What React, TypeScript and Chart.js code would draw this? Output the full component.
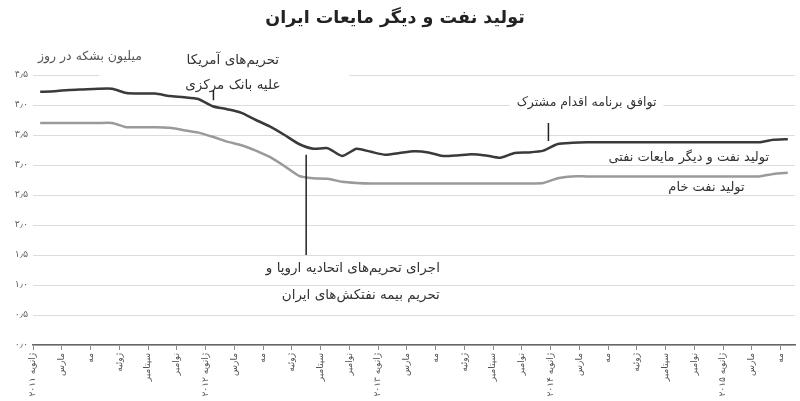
import React, { useEffect, useRef } from "react";
import { Chart, registerables } from "chart.js";

Chart.register(...registerables);

const toFa = (s: string) =>
  s.replace(/[0-9]/g, (d) => "۰۱۲۳۴۵۶۷۸۹"[Number(d)]).replace(".", "٫");

const monthNames = [
  "ژانویه", "فوریه", "مارس", "آوریل", "مه", "ژوئن",
  "ژوئیه", "اوت", "سپتامبر", "اکتبر", "نوامبر", "دسامبر",
];
const years = [2011, 2012, 2013, 2014, 2015];

// categories: monthly, Jan 2011 .. May 2015
const months: string[] = [];
years.forEach((y) =>
  monthNames.forEach((m, k) => months.push(k === 0 ? `${m} ${toFa(String(y))}` : m))
);
months.length = 53;

// total oil & other liquids (million barrels per day)
const totalLiquids = [
  4.22, 4.23, 4.25, 4.26, 4.27, 4.27, 4.2, 4.19, 4.19, 4.15,
  4.13, 4.1, 3.98, 3.93, 3.87, 3.75, 3.64, 3.5, 3.35, 3.27,
  3.28, 3.15, 3.27, 3.22, 3.17, 3.2, 3.23, 3.21, 3.15, 3.16,
  3.18, 3.16, 3.12, 3.2, 3.21, 3.24, 3.35, 3.37, 3.38, 3.38,
  3.38, 3.38, 3.38, 3.38, 3.38, 3.38, 3.38, 3.38, 3.38, 3.38,
  3.38, 3.42, 3.43,
];

// crude oil production
const crudeOil = [
  3.7, 3.7, 3.7, 3.7, 3.7, 3.7, 3.63, 3.63, 3.63, 3.62,
  3.58, 3.54, 3.47, 3.39, 3.33, 3.24, 3.13, 2.98, 2.82, 2.78,
  2.77, 2.72, 2.7, 2.69, 2.69, 2.69, 2.69, 2.69, 2.69, 2.69,
  2.69, 2.69, 2.69, 2.69, 2.69, 2.7, 2.78, 2.81, 2.81, 2.81,
  2.81, 2.81, 2.81, 2.81, 2.81, 2.81, 2.81, 2.81, 2.81, 2.81,
  2.81, 2.85, 2.87,
];

const yTicks = [0, 0.5, 1, 1.5, 2, 2.5, 3, 3.5, 4, 4.5];

const title = "تولید نفت و دیگر مایعات ایران";
const unitLabel = "میلیون بشکه در روز";
const usSanction = ["تحریم‌های آمریکا", "علیه بانک مرکزی"];
const euSanction = ["اجرای تحریم‌های اتحادیه اروپا و", "تحریم بیمه نفتکش‌های ایران"];
const jpoa = "توافق برنامه اقدام مشترک";
const totalLabel = "تولید نفت و دیگر مایعات نفتی";
const crudeLabel = "تولید نفت خام";

const FA = '"DejaVu Sans", sans-serif';

const annotationPlugin = {
  id: "annotations",
  beforeDatasetsDraw(chart: any) {
    const { ctx, scales } = chart;
    const xs = scales.x;
    const ys = scales.y;
    ctx.save();
    ctx.fillStyle = "#fff";
    // white boxes behind texts
    const x1 = xs.getPixelForValue(4.6);
    const x2 = xs.getPixelForValue(22);
    ctx.fillRect(x1, ys.getPixelForValue(4.55) - 8, x2 - x1, 12);
    ctx.font = `12.5px ${FA}`;
    const w = ctx.measureText(jpoa).width + 14;
    const cx = xs.getPixelForValue(38.5);
    const cy = ys.getPixelForValue(4.03);
    ctx.fillRect(cx - w / 2, cy - 8, w, 16);
    ctx.restore();
  },
  afterDraw(chart: any) {
    const { ctx, scales } = chart;
    const xs = scales.x;
    const ys = scales.y;
    const X = (v: number) => xs.getPixelForValue(v);
    const Y = (v: number) => ys.getPixelForValue(v);
    ctx.save();
    ctx.direction = "rtl";
    ctx.textBaseline = "middle";

    // title
    ctx.fillStyle = "#222";
    ctx.font = `bold 17.5px ${FA}`;
    ctx.textAlign = "center";
    ctx.fillText(title, 395, 18);

    // unit
    ctx.fillStyle = "#555";
    ctx.font = `12.5px ${FA}`;
    ctx.fillText(unitLabel, X(3.96), Y(4.8));

    // US sanctions
    ctx.fillStyle = "#333";
    ctx.font = `13.5px ${FA}`;
    ctx.fillText(usSanction[0], X(13.9), Y(4.75));
    ctx.fillText(usSanction[1], X(13.9), Y(4.33));

    // JPOA
    ctx.font = `12.5px ${FA}`;
    ctx.fillText(jpoa, X(38.5), Y(4.03));

    // EU sanctions
    ctx.textAlign = "right";
    ctx.font = `13.5px ${FA}`;
    ctx.fillText(euSanction[0], X(28.3), Y(1.28));
    ctx.fillText(euSanction[1], X(28.3), Y(0.83));

    // series labels
    ctx.font = `13px ${FA}`;
    ctx.fillText(totalLabel, X(51.2), Y(3.13));
    ctx.fillText(crudeLabel, X(49.5), Y(2.63));

    // markers
    ctx.strokeStyle = "#222";
    ctx.lineWidth = 1.5;
    const vline = (xv: number, y1: number, y2: number) => {
      ctx.beginPath();
      ctx.moveTo(X(xv), Y(y1));
      ctx.lineTo(X(xv), Y(y2));
      ctx.stroke();
    };
    vline(12.55, 4.25, 4.08);
    vline(19.0, 3.17, 1.5);
    vline(35.85, 3.7, 3.4);
    ctx.restore();
  },
};

export default function App() {
  const ref = useRef<HTMLCanvasElement>(null);
  useEffect(() => {
    if (!ref.current) return;
    const chart = new Chart(ref.current, {
      type: "line",
      data: {
        datasets: [
          {
            label: totalLabel,
            data: totalLiquids.map((v, i) => ({ x: i + 0.5, y: v })),
            borderColor: "#3a3a3a",
            borderWidth: 2.5,
            pointRadius: 0,
            tension: 0.2,
          },
          {
            label: crudeLabel,
            data: crudeOil.map((v, i) => ({ x: i + 0.5, y: v })),
            borderColor: "#9a9a9a",
            borderWidth: 2.5,
            pointRadius: 0,
            tension: 0.2,
          },
        ],
      },
      options: {
        animation: false,
        responsive: false,
        maintainAspectRatio: false,
        layout: { padding: { top: 75, right: 5, left: 0, bottom: 0 } },
        plugins: {
          legend: { display: false },
          tooltip: { enabled: false },
          title: { display: false },
        },
        scales: {
          x: {
            type: "linear",
            min: 0,
            max: 53,
            afterFit: (s: any) => {
              s.height = 56;
            },
            afterBuildTicks: (s: any) => {
              s.ticks = months
                .map((_, i) => i)
                .filter((i) => i % 2 === 0)
                .map((i) => ({ value: i }));
            },
            ticks: {
              autoSkip: false,
              maxRotation: 90,
              minRotation: 90,
              padding: 3,
              color: "#555",
              font: { family: FA, size: 9 },
              callback: (v: any) => months[Number(v)] ?? "",
            },
            grid: {
              drawOnChartArea: false,
              drawTicks: true,
              tickLength: 5,
              color: "#888",
            },
            border: { display: true, color: "#666", width: 1.5 },
          },
          y: {
            min: 0,
            max: 4.5,
            afterFit: (s: any) => {
              s.width = 33;
            },
            afterBuildTicks: (s: any) => {
              s.ticks = yTicks.map((v) => ({ value: v }));
            },
            ticks: {
              padding: 5,
              color: "#666",
              font: { family: FA, size: 9.5 },
              callback: (v: any) => toFa(Number(v).toFixed(1)),
            },
            grid: { color: "#dcdcdc", drawTicks: false, lineWidth: 1 },
            border: { display: false },
          },
        },
      },
      plugins: [annotationPlugin],
    });
    return () => chart.destroy();
  }, []);
  return (
    <div style={{ position: "fixed", left: 0, top: 0, width: 800, height: 401, background: "#fff" }}>
      <canvas ref={ref} width={800} height={401} style={{ width: 800, height: 401 }} />
    </div>
  );
}
